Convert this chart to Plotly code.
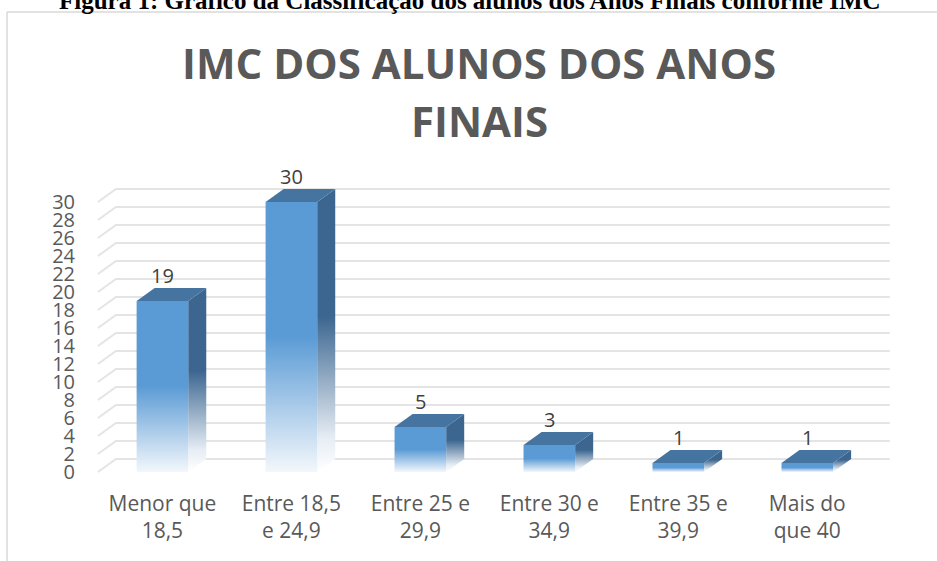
import plotly.graph_objects as go

# ---------------- data ----------------
categories = [
    "Menor que<br>18,5",
    "Entre 18,5<br>e 24,9",
    "Entre 25 e<br>29,9",
    "Entre 30 e<br>34,9",
    "Entre 35 e<br>39,9",
    "Mais do<br>que 40",
]
values = [19, 30, 5, 3, 1, 1]
y_tickvals = list(range(0, 31, 2))
y_ticktext = [str(v) for v in y_tickvals]
title_lines = ["IMC DOS ALUNOS DOS ANOS", "FINAIS"]
caption = "Figura 1: Gráfico da Classificação dos alunos dos Anos Finais conforme IMC"

# ---------------- geometry / style ----------------
W, H = 937, 561
L, R, T, B = 76, 904, 175, 481          # plot area in pixels
X_RANGE = [-0.67, 5.75]
Y_RANGE = [-1.0, 33.0]
HALF_W = 0.2       # half width of the bar front face (category units)
DX = 0.14          # 3-D depth, x (category units)
DY = 1.45          # 3-D depth, y (value units)

FRONT = "#5B9BD5"
TOP = "#4674A0"
SIDE = "#3C6690"
GRID = "#E4E4E4"
TEXT = "#595959"
LABEL = "#404040"


def paper_x(px):
    return (px - L) / (R - L)


def paper_y(py):
    return (B - py) / (B - T)


fig = go.Figure()

# gridlines (side wall diagonal + back wall horizontal)
n = len(values)
gx, gy = [], []
for v in y_tickvals:
    gx += [-0.5, -0.5 + DX, n - 0.5 + DX, None]
    gy += [v, v + DY, v + DY, None]
fig.add_trace(go.Scatter(x=gx, y=gy, mode="lines",
                         line=dict(color=GRID, width=2),
                         hoverinfo="skip", showlegend=False))

# 3-D bars
for i, v in enumerate(values):
    x0, x1 = i - HALF_W, i + HALF_W
    # side face
    fig.add_trace(go.Scatter(
        x=[x1, x1 + DX, x1 + DX, x1, x1],
        y=[0, DY, v + DY, v, 0],
        mode="lines", fill="toself", line=dict(width=0),
        fillgradient=dict(type="vertical",
                          colorscale=[[0, "#FFFFFF"], [0.12, "#E6EDF4"],
                                      [0.55, SIDE], [1, SIDE]]),
        hoverinfo="skip", showlegend=False))
    # front face
    fig.add_trace(go.Scatter(
        x=[x0, x1, x1, x0, x0],
        y=[0, 0, v, v, 0],
        mode="lines", fill="toself", line=dict(width=0),
        fillgradient=dict(type="vertical",
                          colorscale=[[0, "#F3F7FC"], [0.5, FRONT], [1, FRONT]]),
        hoverinfo="skip", showlegend=False))
    # top face
    fig.add_trace(go.Scatter(
        x=[x0, x1, x1 + DX, x0 + DX, x0],
        y=[v, v, v + DY, v + DY, v],
        mode="lines", fill="toself", fillcolor=TOP, line=dict(width=0),
        hoverinfo="skip", showlegend=False))

annotations = []
# data labels
for i, v in enumerate(values):
    annotations.append(dict(x=i, y=v + DY, xref="x", yref="y", text=str(v),
                            showarrow=False, yanchor="middle", yshift=12,
                            font=dict(family="Open Sans", size=20, color=LABEL)))

# chart title (two lines)
for line, py in zip(title_lines, [62, 121]):
    annotations.append(dict(x=paper_x(479), y=paper_y(py), xref="paper", yref="paper",
                            text="<b>" + line + "</b>", showarrow=False,
                            xanchor="center", yanchor="middle",
                            font=dict(family="Open Sans", size=42, color=TEXT)))

# document caption, cut off at the top
annotations.append(dict(x=paper_x(470), y=paper_y(0), xref="paper", yref="paper",
                        text="<b>" + caption + "</b>", showarrow=False,
                        xanchor="center", yanchor="middle",
                        font=dict(family="Liberation Serif", size=25, color="black")))

shapes = [
    dict(type="line", xref="paper", yref="paper",
         x0=paper_x(7), x1=paper_x(940), y0=paper_y(12), y1=paper_y(12),
         line=dict(color="#D9D9D9", width=1.5)),
    dict(type="line", xref="paper", yref="paper",
         x0=paper_x(7), x1=paper_x(7), y0=paper_y(12), y1=paper_y(565),
         line=dict(color="#D9D9D9", width=1.5)),
]

fig.update_layout(
    width=W, height=H,
    margin=dict(l=L, r=W - R, t=T, b=H - B, pad=0),
    paper_bgcolor="white", plot_bgcolor="white",
    showlegend=False,
    font=dict(family="Open Sans", color=TEXT),
    xaxis=dict(range=X_RANGE, tickmode="array",
               tickvals=list(range(n)), ticktext=categories,
               showgrid=False, zeroline=False, showline=False, ticks="",
               ticklabelstandoff=8,
               tickfont=dict(family="Open Sans", size=21, color=TEXT),
               fixedrange=True),
    yaxis=dict(range=Y_RANGE, tickmode="array",
               tickvals=y_tickvals, ticktext=y_ticktext,
               showgrid=False, zeroline=False, showline=False, ticks="",
               tickfont=dict(family="Open Sans", size=20, color=TEXT),
               fixedrange=True),
    annotations=annotations,
    shapes=shapes,
)

fig.write_html("out.html", config={"displayModeBar": False},
               post_script="document.body.style.margin='0';")
